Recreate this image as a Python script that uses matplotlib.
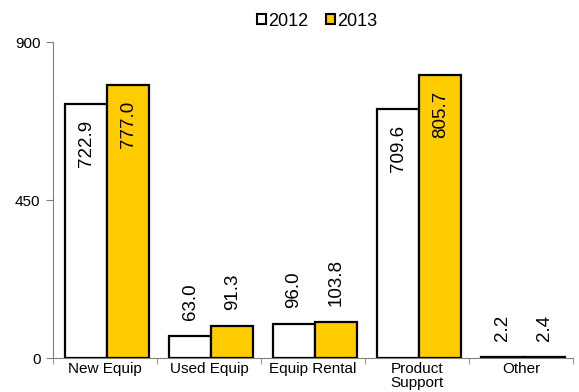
import matplotlib
matplotlib.use("Agg")
import matplotlib.pyplot as plt
from matplotlib.patches import Patch
from matplotlib.ticker import FixedLocator
import numpy as np

plt.rcParams['font.family'] = ['Liberation Sans', 'DejaVu Sans']

categories = ["New Equip", "Used Equip", "Equip Rental", "Product\nSupport", "Other"]
series_names = ["2012", "2013"]
values_2012 = [722.9, 63.0, 96.0, 709.6, 2.2]
values_2013 = [777.0, 91.3, 103.8, 805.7, 2.4]
y_ticks = [0, 450, 900]

colors = ["#FFFFFF", "#FFCC00"]
bar_w = 0.405

fig = plt.figure(figsize=(5.79, 3.92), dpi=100)
ax = fig.add_axes([53 / 579, 1 - 358 / 392, 520 / 579, 316 / 392])

x = np.arange(len(categories))
for i, (vals, col) in enumerate(zip([values_2012, values_2013], colors)):
    offs = (i - 0.5) * bar_w + 0.02
    bars = ax.bar(x + offs, vals, width=bar_w, color=col, edgecolor="black",
                  linewidth=1.6, zorder=3)
    for b, v in zip(bars, vals):
        cx = b.get_x() + b.get_width() / 2
        if v > 450:
            ax.annotate(f"{v:.1f}", (cx, v), xytext=(0, -11.5),
                        textcoords="offset points", rotation=90,
                        ha="center", va="top", fontsize=13.5, zorder=4)
        else:
            ax.annotate(f"{v:.1f}", (cx, v), xytext=(0, 11.5),
                        textcoords="offset points", rotation=90,
                        ha="center", va="bottom", fontsize=13.5, zorder=4)

ax.set_xlim(-0.5, len(categories) - 0.5)
ax.set_ylim(0, 900)
ax.set_yticks(y_ticks)
ax.set_yticklabels([str(t) for t in y_ticks], fontsize=11)
ax.tick_params(axis="y", direction="out", length=5, color="#808080", pad=4)

ax.set_xticks(x)
ax.set_xticklabels(categories, fontsize=11, linespacing=0.95)
ax.tick_params(axis="x", which="major", length=0, pad=3)
ax.xaxis.set_minor_locator(FixedLocator(np.arange(-0.5, len(categories), 1.0)))
ax.tick_params(axis="x", which="minor", direction="out", length=4, color="#808080")

for s in ["top", "right"]:
    ax.spines[s].set_visible(False)
ax.spines["left"].set_color("#808080")
ax.spines["bottom"].set_color("#808080")
ax.spines["left"].set_linewidth(0.8)
ax.spines["bottom"].set_linewidth(0.8)

handles = [Patch(facecolor=c, edgecolor="black", linewidth=1.5) for c in colors]
fig.legend(handles, series_names, loc="center", ncol=2,
           bbox_to_anchor=(317 / 579, 1 - 21 / 392), frameon=False,
           fontsize=13, handlelength=0.5, handleheight=0.5,
           handletextpad=0.12, columnspacing=1.0)

fig.savefig("out.png", dpi=100)
